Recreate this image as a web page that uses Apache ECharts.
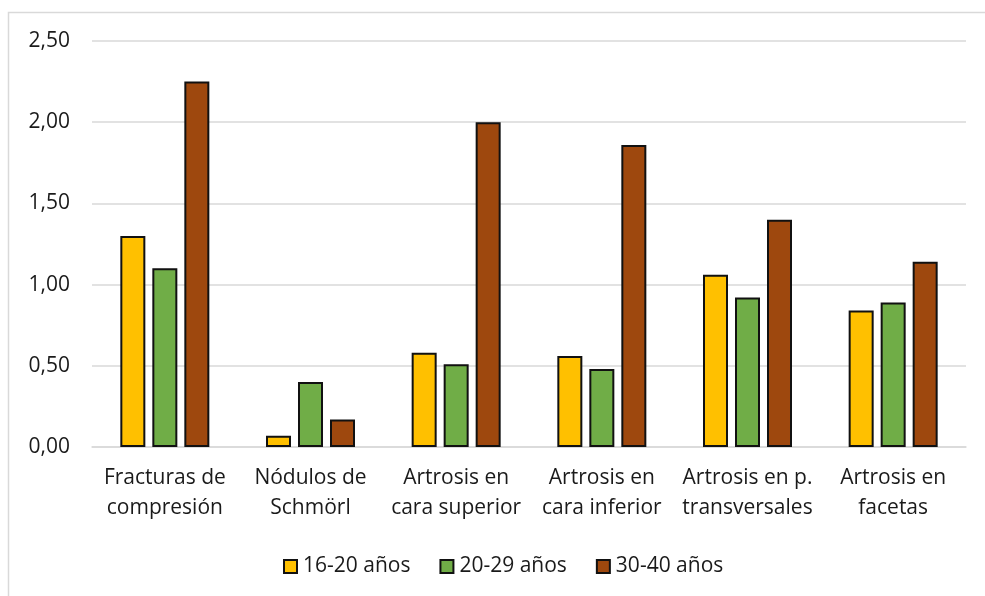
<!DOCTYPE html>
<html>
<head>
<meta charset="utf-8">
<script src="https://cdn.jsdelivr.net/npm/echarts@6/dist/echarts.min.js"></script>
<style>
  html, body { margin: 0; padding: 0; background: #fff; }
  #chart { width: 985px; height: 596px; }
</style>
</head>
<body>
<div id="chart"></div>
<script>
// categorías del eje x (dos líneas)
const categorias = [
  "Fracturas de\ncompresión",
  "Nódulos de\nSchmörl",
  "Artrosis en\ncara superior",
  "Artrosis en\ncara inferior",
  "Artrosis en p.\ntransversales",
  "Artrosis en\nfacetas"
];
const edad16a20 = [1.30, 0.07, 0.58, 0.56, 1.06, 0.84];
const edad20a29 = [1.10, 0.40, 0.51, 0.48, 0.92, 0.89];
const edad30a40 = [2.25, 0.17, 2.00, 1.86, 1.40, 1.14];
const nombres = ["16-20 años", "20-29 años", "30-40 años"];
const colores = ["#FFC000", "#70AD47", "#9E480E"];

const fuente = "'Open Sans', 'Liberation Sans', sans-serif";

let myChart = echarts.init(document.getElementById("chart"));

const serie = (nombre, datos, color) => ({
  name: nombre,
  type: "bar",
  barWidth: 25,
  barGap: "28%",
  itemStyle: {
    color: color,
    borderColor: "#111",
    borderWidth: 2,
  },
  data: datos,
});

let option = {
  animation: false,
  textStyle: { fontFamily: fuente },
  graphic: [
    {
      type: "polyline",
      shape: { points: [[8.5, 596], [8.5, 12.5], [985, 12.5]] },
      style: { stroke: "#d9d9d9", lineWidth: 1.5, fill: null },
      silent: true,
    },
  ],
  grid: {
    left: 92,
    right: 19,
    top: 41,
    bottom: 149,
    containLabel: false,
  },
  legend: {
    data: nombres,
    left: 278,
    top: 551,
    itemWidth: 13,
    itemHeight: 13,
    itemGap: 29,
    icon: "rect",
    textStyle: {
      fontFamily: fuente,
      fontSize: 21,
      color: "#1a1a1a",
      padding: [0, 0, 0, 1],
    },
  },
  xAxis: {
    type: "category",
    data: categorias,
    axisLine: { show: true, lineStyle: { color: "#d9d9d9", width: 1.5 } },
    axisTick: { show: false },
    axisLabel: {
      interval: 0,
      margin: 16,
      fontFamily: fuente,
      fontSize: 21,
      lineHeight: 30,
      color: "#1a1a1a",
    },
  },
  yAxis: {
    type: "value",
    min: 0,
    max: 2.5,
    interval: 0.5,
    axisLine: { show: false },
    axisTick: { show: false },
    splitLine: { lineStyle: { color: "#d9d9d9", width: 1.5 } },
    axisLabel: {
      margin: 22,
      fontFamily: fuente,
      fontSize: 21,
      color: "#1a1a1a",
      formatter: (v) => v.toFixed(2).replace(".", ","),
    },
  },
  series: [
    serie(nombres[0], edad16a20, colores[0]),
    serie(nombres[1], edad20a29, colores[1]),
    serie(nombres[2], edad30a40, colores[2]),
  ],
};
myChart.setOption(option);
</script>
</body>
</html>
